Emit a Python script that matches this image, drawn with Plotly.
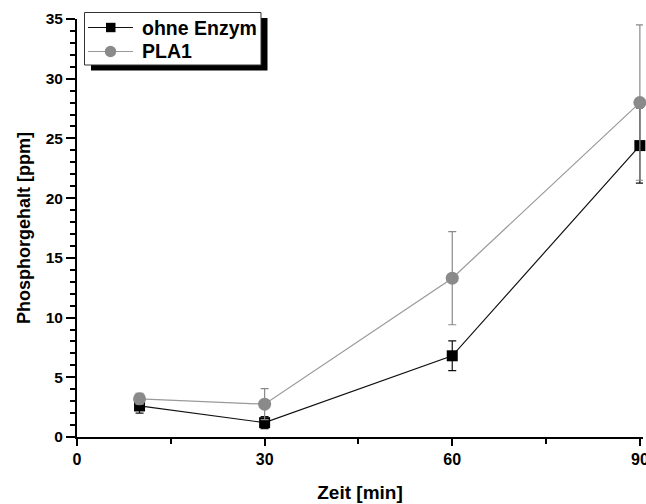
import plotly.graph_objects as go

zeit = [10, 30, 60, 90]
ohne_enzym = [2.6, 1.2, 6.8, 24.4]
ohne_enzym_err = [0.6, 0.5, 1.25, 3.15]
pla1 = [3.2, 2.75, 13.3, 28.0]
pla1_err = [0.45, 1.3, 3.9, 6.5]
series_names = ["ohne Enzym", "PLA1"]

font_family = "Liberation Sans, Arial, sans-serif"

# plot area in pixels (used to place the boxed legend)
L, R, T, B, W, H = 77, 3, 19, 67, 646, 504
PW, PH = W - L - R, H - T - B


def px(x):
    return (x - L) / PW


def py(y):
    return (H - B - y) / PH


fig = go.Figure()
fig.add_trace(go.Scatter(
    x=zeit, y=ohne_enzym, name=series_names[0], mode="lines+markers",
    line=dict(color="#111111", width=1.2),
    marker=dict(symbol="square", size=11, color="#000000"),
    error_y=dict(type="data", array=ohne_enzym_err, visible=True,
                 color="#111111", thickness=1.2, width=4),
    cliponaxis=False, showlegend=False,
))
fig.add_trace(go.Scatter(
    x=zeit, y=pla1, name=series_names[1], mode="lines+markers",
    line=dict(color="#999999", width=1.2),
    marker=dict(symbol="circle", size=13, color="#8a8a8a"),
    error_y=dict(type="data", array=pla1_err, visible=True,
                 color="#8a8a8a", thickness=1.2, width=4),
    cliponaxis=False, showlegend=False,
))

# boxed legend with drop shadow
shapes = [
    dict(type="rect", xref="paper", yref="paper", x0=px(91), x1=px(267.5), y0=py(70.5), y1=py(18),
         fillcolor="black", line=dict(width=0), layer="above"),
    dict(type="rect", xref="paper", yref="paper", x0=px(84.5), x1=px(261), y0=py(65), y1=py(12.5),
         fillcolor="white", line=dict(color="#333333", width=1), layer="above"),
    dict(type="line", xref="paper", yref="paper", x0=px(88), x1=px(133), y0=py(27.5), y1=py(27.5),
         line=dict(color="#111111", width=1.2), layer="above"),
    dict(type="rect", xref="paper", yref="paper", x0=px(106), x1=px(115.5), y0=py(32.2), y1=py(22.8),
         fillcolor="black", line=dict(width=0), layer="above"),
    dict(type="line", xref="paper", yref="paper", x0=px(88), x1=px(133), y0=py(51.5), y1=py(51.5),
         line=dict(color="#999999", width=1.2), layer="above"),
    dict(type="circle", xref="paper", yref="paper", x0=px(104.8), x1=px(116.2), y0=py(57.2), y1=py(45.8),
         fillcolor="#8a8a8a", line=dict(width=0), layer="above"),
]
annotations = [
    dict(text=series_names[0], xref="paper", yref="paper", x=px(140), y=py(27.5),
         xanchor="left", yanchor="middle", showarrow=False,
         font=dict(size=19.5, family=font_family, weight="bold", color="black")),
    dict(text=series_names[1], xref="paper", yref="paper", x=px(140), y=py(51.5),
         xanchor="left", yanchor="middle", showarrow=False,
         font=dict(size=19.5, family=font_family, weight="bold", color="black")),
]

fig.update_layout(
    width=W, height=H,
    margin=dict(l=L, r=R, t=T, b=B, autoexpand=False),
    paper_bgcolor="white", plot_bgcolor="white",
    font=dict(family=font_family, color="black"),
    showlegend=False,
    shapes=shapes, annotations=annotations,
)
fig.update_xaxes(
    range=[0, 90.5], tickvals=[0, 30, 60, 90], ticklabeloverflow="allow", automargin=False,
    showline=True, linecolor="black", linewidth=2, showgrid=False, zeroline=False,
    ticks="outside", ticklen=7, tickwidth=1.5, tickcolor="black",
    minor=dict(tickvals=[15, 45, 75], ticks="outside", ticklen=5, tickwidth=1.5, tickcolor="black", showgrid=False),
    tickfont=dict(size=16, family=font_family, weight="bold"),
    title=dict(text="Zeit [min]", font=dict(size=19, family=font_family, weight="bold"), standoff=18),
)
fig.update_yaxes(
    range=[0, 35], tickvals=[0, 5, 10, 15, 20, 25, 30, 35], automargin=False,
    showline=True, linecolor="black", linewidth=2, showgrid=False, zeroline=False,
    ticks="outside", ticklen=9, tickwidth=1.5, tickcolor="black",
    minor=dict(dtick=1, ticks="outside", ticklen=5, tickwidth=1.5, tickcolor="black", showgrid=False),
    tickfont=dict(size=15.5, family=font_family, weight="bold"),
    title=dict(text="Phosphorgehalt [ppm]", font=dict(size=18, family=font_family, weight="bold"), standoff=10),
)

fig.write_html("out.html")
